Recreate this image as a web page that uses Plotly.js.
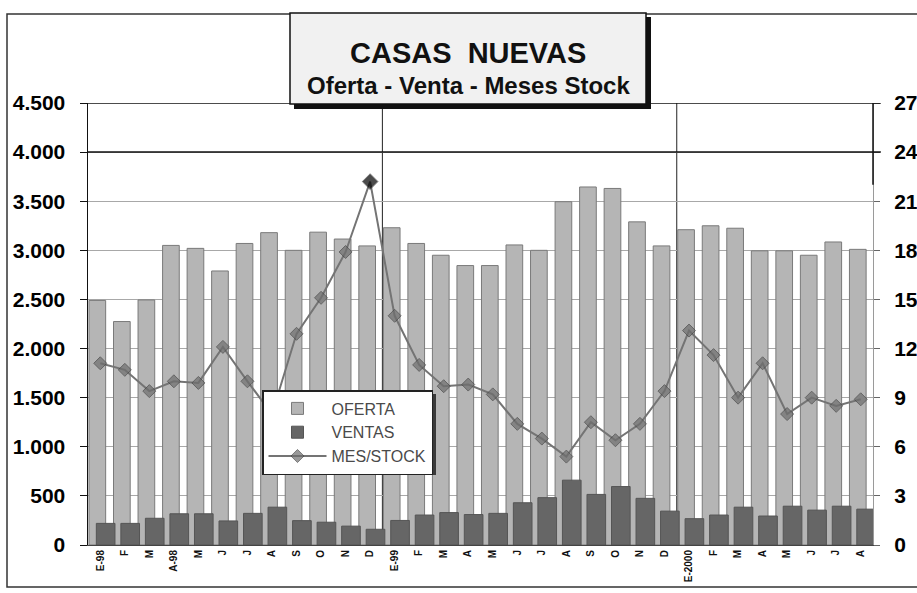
<!DOCTYPE html>
<html>
<head>
<meta charset="utf-8">
<script src="https://cdn.plot.ly/plotly-3.0.1.min.js"></script>
<style>
  html, body { margin: 0; padding: 0; background: #ffffff; }
  #chart { width: 917px; height: 593px; }
</style>
</head>
<body>
<div id="chart"></div>
<script>
// Month labels (Jan 1998 - Aug 2000)
var months = ["E-98","F","M","A-98","M","J","J","A","S","O","N","D",
              "E-99","F","M","A","M","J","J","A","S","O","N","D",
              "E-2000","F","M","A","M","J","J","A"];
// OFERTA (units, left axis)
var oferta = [2490, 2275, 2495, 3050, 3020, 2790, 3070, 3180, 3000, 3185, 3115, 3045,
              3230, 3070, 2950, 2845, 2845, 3055, 3000, 3495, 3645, 3630, 3290, 3045,
              3210, 3250, 3225, 2995, 2995, 2950, 3085, 3010];
// VENTAS (units, left axis)
var ventas = [220, 220, 272, 318, 318, 245, 322, 385, 248, 232, 192, 160,
              250, 305, 330, 310, 322, 430, 482, 660, 515, 595, 475, 345,
              268, 305, 385, 295, 395, 355, 395, 365];
// MES/STOCK (months, right axis)
var mesStock = [11.1, 10.7, 9.4, 10.0, 9.9, 12.1, 10.0, 8.0, 12.9, 15.1, 17.9, 22.2,
                14.0, 11.0, 9.7, 9.8, 9.2, 7.4, 6.5, 5.4, 7.5, 6.4, 7.4, 9.4,
                13.1, 11.6, 9.0, 11.1, 8.0, 9.0, 8.5, 8.9];
var leftTicks = [0, 500, 1000, 1500, 2000, 2500, 3000, 3500, 4000, 4500];
var rightTicks = [0, 3, 6, 9, 12, 15, 18, 21, 24, 27];

var idx = months.map(function (m, i) { return i; });
var peak = Math.max.apply(null, mesStock);
var markerColors = mesStock.map(function (v) { return v === peak ? "#000000" : "#6e6e6e"; });
var markerSizes = mesStock.map(function (v) { return v === peak ? 12 : 10; });

var FONT = "Liberation Sans, Arial, Helvetica, sans-serif";

var traces = [
  {
    type: "bar", name: "OFERTA", x: idx, y: oferta,
    offset: -0.46, width: 0.68,
    marker: { color: "#b5b5b5", line: { color: "#7a7a7a", width: 1 } },
    legendgroup: "a"
  },
  {
    type: "bar", name: "VENTAS", x: idx, y: ventas,
    offset: -0.16, width: 0.76,
    marker: { color: "#666666", line: { color: "#555555", width: 1 } },
    legendgroup: "b"
  },
  {
    type: "scatter", mode: "lines+markers", name: "MES/STOCK", x: idx, y: mesStock,
    yaxis: "y2",
    line: { color: "#747474", width: 2 },
    marker: { symbol: "diamond", size: markerSizes, color: markerColors,
              line: { color: "#444444", width: 1 } },
    legendgroup: "c"
  }
];

// paper-coordinate helpers from the plot geometry (l=88, plot width 785, t=103, plot height 442)
function px(x) { return (x - 88) / 785; }
function py(y) { return (545 - y) / 442; }

var shapes = [
  // outer frame
  { type: "rect", xref: "paper", yref: "paper", x0: px(7), x1: px(1000), y0: py(587), y1: py(14),
    line: { color: "#333333", width: 1.5 }, layer: "below" },
  // year separators
  { type: "line", xref: "x", yref: "y", x0: 11.5, x1: 11.5, y0: -50, y1: 4500,
    line: { color: "#222222", width: 1 }, layer: "below" },
  { type: "line", xref: "x", yref: "y", x0: 23.5, x1: 23.5, y0: -50, y1: 4500,
    line: { color: "#222222", width: 1 }, layer: "below" },
  // heavy upper lines
  { type: "line", xref: "paper", yref: "y", x0: 0, x1: 1.01, y0: 4000, y1: 4000,
    line: { color: "#111111", width: 1.5 }, layer: "above" },
  { type: "line", xref: "paper", yref: "y", x0: 0, x1: 1.01, y0: 4500, y1: 4500,
    line: { color: "#111111", width: 1.5 }, layer: "above" },
  { type: "line", xref: "paper", yref: "y2", x0: 1, x1: 1, y0: 22, y1: 27,
    line: { color: "#111111", width: 1.5 }, layer: "above" },
  // title box shadow + box
  { type: "rect", xref: "paper", yref: "paper", x0: px(294), x1: px(651), y0: py(109), y1: py(17),
    fillcolor: "#111111", line: { width: 0 }, layer: "above" },
  { type: "rect", xref: "paper", yref: "paper", x0: px(290), x1: px(646), y0: py(104), y1: py(13),
    fillcolor: "#f1f1f1", line: { color: "#111111", width: 1.5 }, layer: "above" },
  // legend shadow
  { type: "rect", xref: "paper", yref: "paper", x0: px(266), x1: px(436), y0: py(475), y1: py(394),
    fillcolor: "#3a3a3a", line: { width: 0 }, layer: "above" }
];

var annotations = [
  { xref: "paper", yref: "paper", x: px(468), y: py(53), xanchor: "center", yanchor: "middle",
    text: "<b>CASAS  NUEVAS</b>", showarrow: false,
    font: { family: FONT, size: 29, color: "#111111" } },
  { xref: "paper", yref: "paper", x: px(468), y: py(86), xanchor: "center", yanchor: "middle",
    text: "<b>Oferta - Venta - Meses Stock</b>", showarrow: false,
    font: { family: FONT, size: 24, color: "#111111" } }
];

var layout = {
  width: 917, height: 593,
  margin: { l: 88, r: 44, t: 103, b: 48, pad: 0 },
  paper_bgcolor: "#ffffff", plot_bgcolor: "#ffffff",
  separators: ",.",
  font: { family: FONT, color: "#111111" },
  barmode: "overlay",
  showlegend: true,
  legend: {
    x: px(262), y: py(390), xanchor: "left", yanchor: "top",
    bgcolor: "#ffffff", bordercolor: "#222222", borderwidth: 1.5,
    font: { family: FONT, size: 16, color: "#4a4a4a" },
    traceorder: "grouped", tracegroupgap: 0, itemwidth: 58
  },
  xaxis: {
    type: "linear", range: [-0.5, 31.5],
    tickmode: "array", tickvals: idx, ticktext: months,
    tickangle: -90, tickfont: { family: FONT, size: 10, color: "#111111", weight: "bold" },
    showgrid: false, zeroline: false, showline: true, linecolor: "#444444", linewidth: 1,
    ticks: "", fixedrange: true
  },
  yaxis: {
    range: [0, 4500], tickmode: "array", tickvals: leftTicks, tickformat: ",",
    tickfont: { family: FONT, size: 21, color: "#000000", weight: "bold" },
    showgrid: true, gridcolor: "#a8a8a8", gridwidth: 1,
    zeroline: false, showline: true, linecolor: "#111111", linewidth: 1.5,
    ticks: "outside", ticklen: 7, tickcolor: "#111111", ticklabelstandoff: 10
  },
  yaxis2: {
    range: [0, 27], overlaying: "y", side: "right",
    tickmode: "array", tickvals: rightTicks,
    tickfont: { family: FONT, size: 21, color: "#000000", weight: "bold" },
    showgrid: false, zeroline: false, showline: true, linecolor: "#9a9a9a", linewidth: 1,
    ticks: "outside", ticklen: 6, tickcolor: "#666666", ticklabelstandoff: 10
  },
  shapes: shapes,
  annotations: annotations
};

Plotly.newPlot("chart", traces, layout, { displayModeBar: false, staticPlot: true });
</script>
</body>
</html>
